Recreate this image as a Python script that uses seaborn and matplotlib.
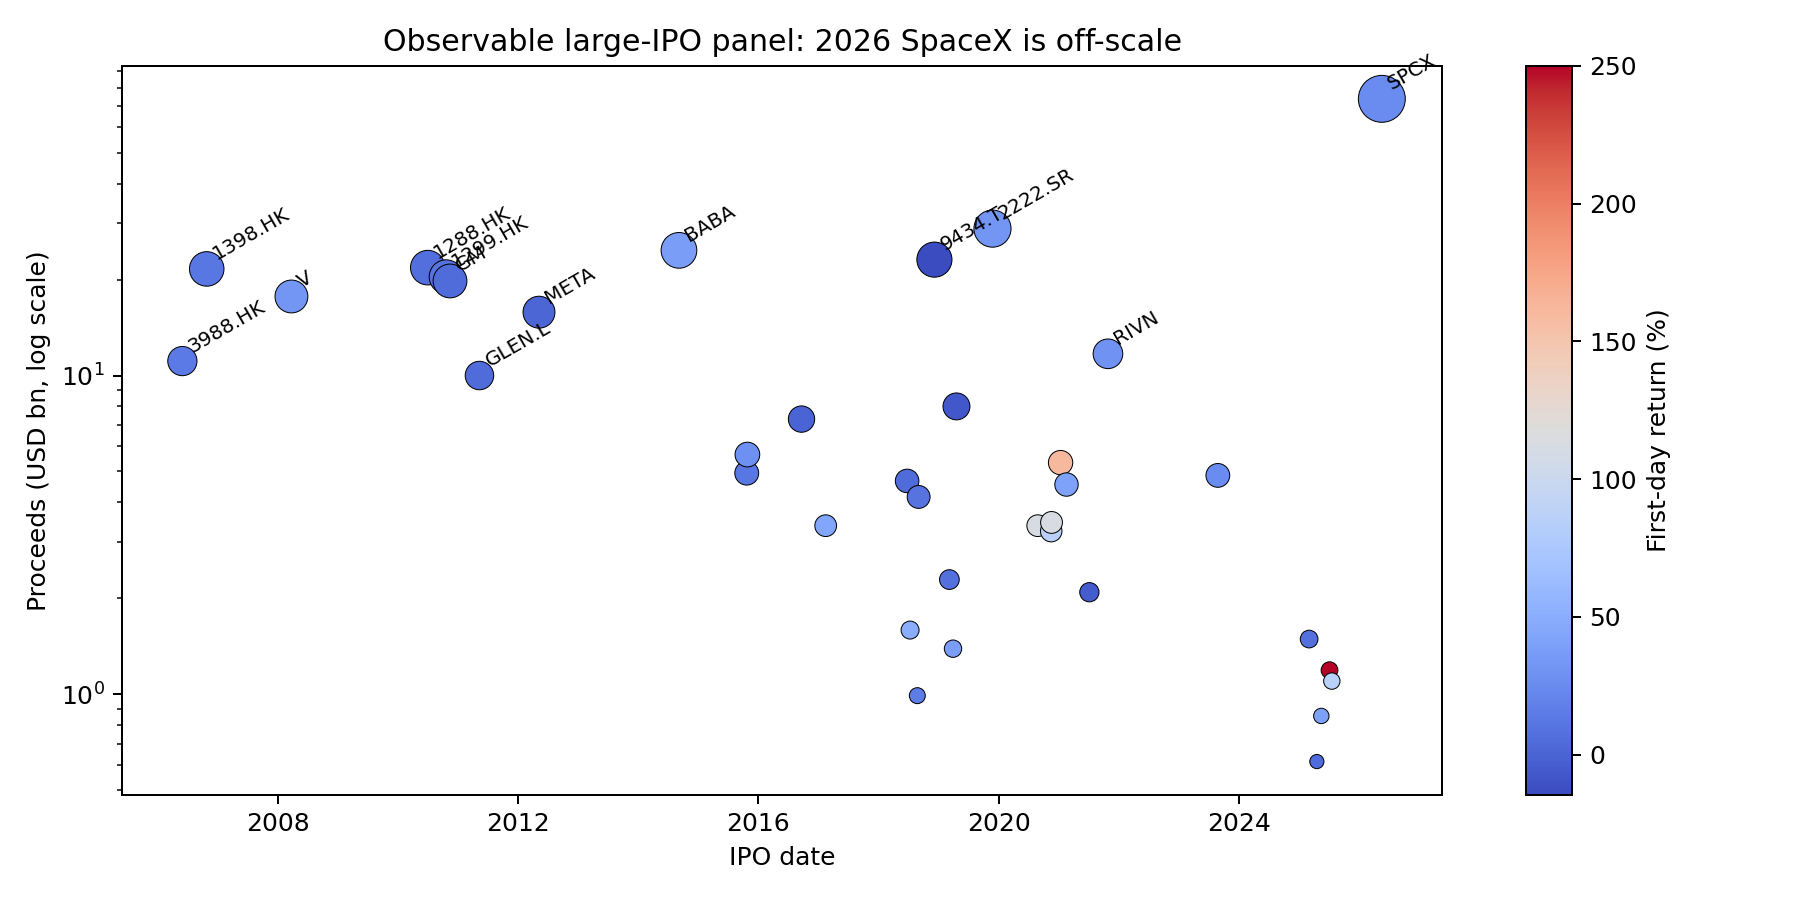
import pandas as pd
import numpy as np
import matplotlib
matplotlib.use("Agg")
import matplotlib.pyplot as plt
import seaborn as sns

# IPO panel values (empty ticker = no label drawn)
tickers = ["3988.HK", "1398.HK", "V", "1288.HK", "1299.HK", "GM", "GLEN.L", "META",
           "BABA", "", "", "", "", "", "", "", "", "9434.T", "", "", "",
           "2222.SR", "", "", "", "", "", "", "RIVN", "", "", "", "", "", "", "SPCX"]
dates = ["2006-06-01", "2006-10-27", "2008-03-25", "2010-07-02", "2010-10-22", "2010-11-14",
         "2011-05-12", "2012-05-08", "2014-09-06", "2015-10-23", "2015-10-27", "2016-09-20",
         "2017-02-14", "2018-06-24", "2018-07-12", "2018-08-25", "2018-09-02", "2018-12-07",
         "2019-03-08", "2019-03-30", "2019-04-20", "2019-11-25", "2020-08-26",
         "2020-11-16", "2020-11-18", "2021-01-12", "2021-02-17", "2021-07-06", "2021-10-27",
         "2023-08-26", "2025-03-03", "2025-04-19", "2025-05-16", "2025-07-05", "2025-07-19",
         "2026-05-19"]
proceeds = [11.1, 21.6, 17.7, 21.8, 20.4, 19.8, 10.0, 15.8, 24.7, 4.94, 5.65, 7.3,
            3.38, 4.67, 1.59, 0.99, 4.16, 23.1, 2.29, 1.39, 8.0, 28.9, 3.38,
            3.25, 3.46, 5.33, 4.55, 2.09, 11.7, 4.86, 1.49, 0.615, 0.855, 1.19, 1.10, 73.8]
first_day = [14, 12, 32, 7, 10, 5, 5, 1, 38, 12, 28, 0, 44, 5, 50, 15, 10, -14.5,
             8, 38, -7.6, 33, 112, 86, 113, 161, 41, -5, 29, 25, 8, 5, 40, 250, 85, 25]

df = pd.DataFrame({
    "ticker": tickers,
    "date": pd.to_datetime(dates),
    "proceeds": proceeds,
    "ret": first_day,
})
df["size_key"] = np.sqrt(df["proceeds"])
df = df.sort_values("date", kind="stable").reset_index(drop=True)

vmin, vmax = df["ret"].min(), df["ret"].max()

fig = plt.figure(figsize=(10, 5), dpi=180)
ax = fig.add_axes([0.068, 0.117, 0.733, 0.810])
cax = fig.add_axes([0.8476, 0.117, 0.0255, 0.810])

sns.scatterplot(
    data=df, x="date", y="proceeds",
    hue="ret", palette="coolwarm", hue_norm=(vmin, vmax),
    size="size_key", sizes=(0, 410), size_norm=(0, 10),
    edgecolor="black", linewidth=0.4, alpha=1.0,
    legend=False, ax=ax,
)
ax.set_yscale("log")

# label only the big deals
for _, r in df.iterrows():
    if r["ticker"]:
        ax.annotate(r["ticker"], (r["date"], r["proceeds"]),
                    xytext=(1, 2), textcoords="offset points",
                    fontsize=8, rotation=30, ha="left", va="bottom")

ax.set_title("Observable large-IPO panel: 2026 SpaceX is off-scale")
ax.set_xlabel("IPO date")
ax.set_ylabel("Proceeds (USD bn, log scale)")

sm = plt.cm.ScalarMappable(cmap="coolwarm", norm=plt.Normalize(vmin, vmax))
sm.set_array([])
cb = fig.colorbar(sm, cax=cax)
cb.set_label("First-day return (%)")

fig.savefig("out.png", dpi=180)
